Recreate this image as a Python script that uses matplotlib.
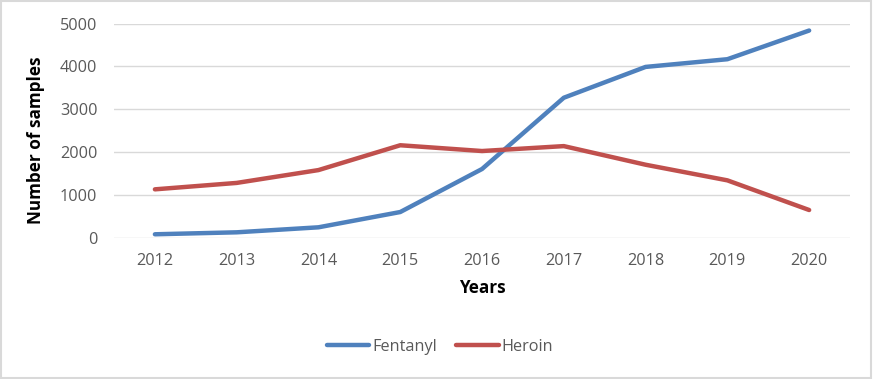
import matplotlib.pyplot as plt
from matplotlib.patches import Rectangle

years = ['2012', '2013', '2014', '2015', '2016', '2017', '2018', '2019', '2020']
fentanyl = [80, 126, 243, 600, 1605, 3270, 3990, 4170, 4840]
heroin = [1130, 1280, 1580, 2160, 2025, 2140, 1705, 1340, 647]

plt.rcParams['font.family'] = ['Open Sans', 'DejaVu Sans']

fig = plt.figure(figsize=(8.73, 3.79), dpi=100)
ax = fig.add_axes([0.1306, 0.3728, 0.8431, 0.5647])

x = range(len(years))
ax.plot(x, fentanyl, color='#4F81BD', lw=3.2, label='Fentanyl', solid_capstyle='round', zorder=3)
ax.plot(x, heroin, color='#C0504D', lw=3.2, label='Heroin', solid_capstyle='round', zorder=3)

ax.set_xlim(-0.5, len(years) - 0.5)
ax.set_ylim(0, 5000)
ax.set_yticks(range(0, 5001, 1000))
ax.set_xticks(list(x))
ax.set_xticklabels(years)

ax.grid(axis='y', color='#D9D9D9', lw=1)
ax.set_axisbelow(True)
for s in ax.spines.values():
    s.set_visible(False)
ax.tick_params(length=0, labelsize=11.7, labelcolor='#595959')
ax.tick_params(axis='y', pad=12)
ax.tick_params(axis='x', pad=11)

ax.set_ylabel('Number of samples', fontsize=12.3, fontweight='bold')
ax.yaxis.set_label_coords(-0.094, 0.454)
ax.set_xlabel('Years', fontsize=12.3, fontweight='bold', labelpad=7)

leg = fig.legend(loc='center', bbox_to_anchor=(0.504, 0.084), ncol=2, frameon=False,
                 fontsize=11.7, handlelength=2.6, handletextpad=0.2, columnspacing=1.2)
for t in leg.get_texts():
    t.set_color('#595959')

fig.patches.append(Rectangle((0.001, 0.002), 0.997, 0.995, transform=fig.transFigure,
                             fill=False, edgecolor='#D9D9D9', lw=1.5))

fig.savefig('out.png', dpi=100)
